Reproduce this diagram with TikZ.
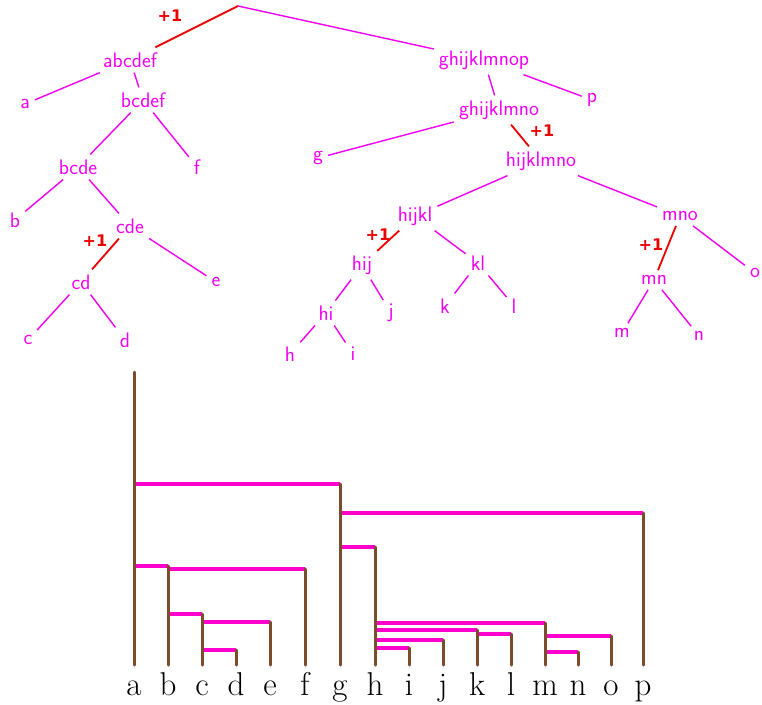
\documentclass[tikz,border=0pt]{standalone}
\usepackage{fontspec}
\newfontfamily\plusfont{DejaVu Sans}
\definecolor{tmag}{RGB}{240,0,240}
\definecolor{dmag}{RGB}{255,0,204}
\definecolor{brn}{RGB}{122,78,45}
\definecolor{rd}{RGB}{235,0,0}
\begin{document}
\begin{tikzpicture}[x=1pt,y=-1pt,
  tl/.style={text=tmag,font=\sffamily\fontsize{21}{21}\selectfont,inner sep=5pt},
  tedge/.style={draw=tmag,line width=1.4pt},
  redge/.style={draw=rd,line width=1.8pt},
  plus/.style={text=rd,font=\plusfont\bfseries\fontsize{16}{16}\selectfont,inner sep=0pt},
  leaf/.style={anchor=base,font=\fontsize{33}{33}\selectfont,inner sep=0pt},
  br/.style={draw=brn,line width=3pt,line cap=round},
  hl/.style={draw=dmag,line width=4pt}]
\useasboundingbox (0,0) rectangle (762,704);

% ---------- top tree ----------
\coordinate (root) at (238,6);
\node[tl] (abcdef) at (130,60) {abcdef};
\node[tl] (ghijklmnop) at (484,60) {ghijklmnop};
\node[tl] (a) at (25,104) {a};
\node[tl] (bcdef) at (143,100) {bcdef};
\node[tl] (bcde) at (78,167) {bcde};
\node[tl] (f) at (197,167) {f};
\node[tl] (b) at (15,220) {b};
\node[tl] (cde) at (130,226) {cde};
\node[tl] (cd) at (81,282) {cd};
\node[tl] (e) at (216,282) {e};
\node[tl] (c) at (28,340) {c};
\node[tl] (d) at (125,340) {d};

\node[tl] (p) at (592,100) {p};
\node[tl] (ghijklmno) at (499,110) {ghijklmno};
\node[tl] (g) at (318,158) {g};
\node[tl] (hijklmno) at (541,161) {hijklmno};
\node[tl] (hijkl) at (415,216) {hijkl};
\node[tl] (mno) at (680,216) {mno};
\node[tl] (hij) at (362,265) {hij};
\node[tl] (kl) at (478,263) {kl};
\node[tl] (hi) at (326,313) {hi};
\node[tl] (j) at (391,313) {j};
\node[tl] (k) at (445,306) {k};
\node[tl] (l) at (514,306) {l};
\node[tl] (h) at (290,354) {h};
\node[tl] (i) at (353,354) {i};
\node[tl] (mn) at (654,280) {mn};
\node[tl] (o) at (755,273) {o};
\node[tl] (m) at (622,333) {m};
\node[tl] (n) at (699,336) {n};

\draw[redge] (root) -- (abcdef);
\draw[tedge] (root) -- (ghijklmnop);
\draw[tedge] (abcdef) -- (a);
\draw[tedge] (abcdef) -- (bcdef);
\draw[tedge] (bcdef) -- (bcde);
\draw[tedge] (bcdef) -- (f);
\draw[tedge] (bcde) -- (b);
\draw[tedge] (bcde) -- (cde);
\draw[redge] (cde) -- (cd);
\draw[tedge] (cde) -- (e);
\draw[tedge] (cd) -- (c);
\draw[tedge] (cd) -- (d);

\draw[tedge] (ghijklmnop) -- (p);
\draw[tedge] (ghijklmnop) -- (ghijklmno);
\draw[tedge] (ghijklmno) -- (g);
\draw[redge] (ghijklmno) -- (hijklmno);
\draw[tedge] (hijklmno) -- (hijkl);
\draw[tedge] (hijklmno) -- (mno);
\draw[redge] (hijkl) -- (hij);
\draw[tedge] (hijkl) -- (kl);
\draw[tedge] (hij) -- (hi);
\draw[tedge] (hij) -- (j);
\draw[tedge] (kl) -- (k);
\draw[tedge] (kl) -- (l);
\draw[tedge] (hi) -- (h);
\draw[tedge] (hi) -- (i);
\draw[redge] (mno) -- (mn);
\draw[tedge] (mno) -- (o);
\draw[tedge] (mn) -- (m);
\draw[tedge] (mn) -- (n);

\node[plus] (p1) at (170,16) {+1};
\node[plus] (p2) at (95,241) {+1};
\node[plus] (p3) at (542,131) {+1};
\node[plus] (p4) at (378,235) {+1};
\node[plus] (p5) at (651,245) {+1};

% ---------- dendrogram ----------
\foreach \n/\x/\t in {a/134/372,b/168/566,c/202/614,d/236/650,e/270/622,f/305/569,
  g/340/484,h/375/547,i/409/648,j/443/640,k/477/630,l/511/634,m/545/623,
  n/578/652,o/611/636,p/643/513}{
  \node[leaf] (L\n) at (\x,695) {\n};
  \coordinate (B\n) at (\x,665);
  \coordinate (T\n) at (\x,\t);
}
\draw[hl] (Ta|-Tg) -- (Tg);
\draw[hl] (Ta|-Tb) -- (Tb);
\draw[hl] (Tb|-Tf) -- (Tf);
\draw[hl] (Tb|-Tc) -- (Tc);
\draw[hl] (Tc|-Te) -- (Te);
\draw[hl] (Tc|-Td) -- (Td);
\draw[hl] (Tg|-Tp) -- (Tp);
\draw[hl] (Tg|-Th) -- (Th);
\draw[hl] (Th|-Tm) -- (Tm);
\draw[hl] (Th|-Tk) -- (Tk);
\draw[hl] (Tk|-Tl) -- (Tl);
\draw[hl] (Th|-Tj) -- (Tj);
\draw[hl] (Th|-Ti) -- (Ti);
\draw[hl] (Tm|-To) -- (To);
\draw[hl] (Tm|-Tn) -- (Tn);
\foreach \n in {a,b,c,d,e,f,g,h,i,j,k,l,m,n,o,p}{
  \draw[br] (T\n) -- (B\n);
}
\end{tikzpicture}
\end{document}
